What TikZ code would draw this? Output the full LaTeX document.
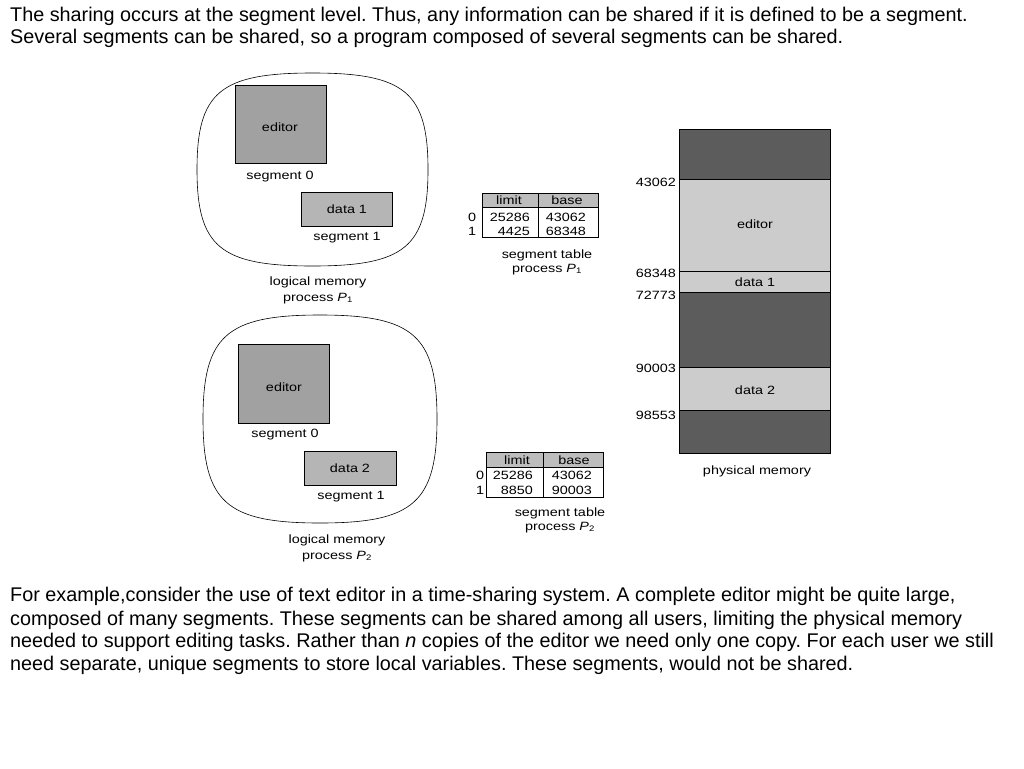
\documentclass[tikz,border=0pt]{standalone}
\usepackage{fontspec}
\setmainfont{Liberation Sans}
\newfontfamily\figfont[FakeStretch=1.2]{Liberation Sans}
\frenchspacing

\definecolor{memdark}{gray}{0.36}
\definecolor{memlight}{gray}{0.80}
\definecolor{segfill}{gray}{0.63}
\definecolor{datfill}{gray}{0.71}
\definecolor{headfill}{gray}{0.74}

\tikzset{
  txt/.style={anchor=base west,inner sep=0pt,font=\fontsize{19.8}{23}\selectfont},
  lbl/.style={anchor=base,inner sep=0pt,font=\figfont\fontsize{12}{13}\selectfont},
  num/.style={lbl,anchor=base east}
}

\begin{document}
\begin{tikzpicture}[x=1pt,y=-1pt]
  \useasboundingbox(0,0)rectangle(1024,768);

  \node[txt] (intro1) at (10,21.7){The sharing occurs at the segment level. Thus, any information can be shared if it is defined to be a segment.};
  \node[txt] (intro2) at (10,43.3){Several segments can be shared, so a program composed of several segments can be shared.};

  \foreach \cx/\cy/\a/\b in {312.5/169.5/115.5/96.5, 320/419/117/104}
  {
    \draw[semithick](\cx,\cy-\b) .. controls (\cx+0.8*\a,\cy-\b) and (\cx+\a,\cy-0.8*\b) .. (\cx+\a,\cy)
      .. controls (\cx+\a,\cy+0.8*\b) and (\cx+0.8*\a,\cy+\b) .. (\cx,\cy+\b)
      .. controls (\cx-0.8*\a,\cy+\b) and (\cx-\a,\cy+0.8*\b) .. (\cx-\a,\cy)
      .. controls (\cx-\a,\cy-0.8*\b) and (\cx-0.8*\a,\cy-\b) .. (\cx,\cy-\b);
  }

  \draw[fill=segfill](235,85)rectangle(326,163);
  \node[lbl] (ed1) at (280,131){editor};
  \node[lbl] (s0a) at (280,179){segment 0};
  \draw[fill=datfill](301,192)rectangle(392,226);
  \node[lbl] (d1) at (347,213){data 1};
  \node[lbl] (s1a) at (347,240){segment 1};
  \node[lbl] (lm1) at (318,285){logical memory};
  \node[lbl] (pr1) at (318,301){process \textit{P}\textsubscript{1}};

  \draw[fill=segfill](238,344)rectangle(329,423);
  \node[lbl] (ed2) at (284,391){editor};
  \node[lbl] (s0b) at (285,437){segment 0};
  \draw[fill=datfill](304,451)rectangle(396,485);
  \node[lbl] (d2) at (350,472){data 2};
  \node[lbl] (s1b) at (351,499){segment 1};
  \node[lbl] (lm2) at (337,543){logical memory};
  \node[lbl] (pr2) at (337,559){process \textit{P}\textsubscript{2}};

  \draw[fill=headfill](482,193)rectangle(598,207);
  \draw(482,193)rectangle(598,237)(538,193)--(538,237);
  \node[lbl] (lim1) at (509,204){limit};
  \node[lbl] (bas1) at (567,204){base};
  \foreach \r/\y/\l/\b in {0/221/25286/43062, 1/235/4425/68348}
  {
    \node[lbl] at (472,\y){\r};
    \node[num] at (530,\y){\l};
    \node[num] at (586,\y){\b};
  }
  \node[lbl] (st1) at (547,258){segment table};
  \node[lbl] (sp1) at (547,272){process \textit{P}\textsubscript{1}};

  \draw[fill=headfill](486,452)rectangle(603,467);
  \draw(486,452)rectangle(603,497)(543,452)--(543,497);
  \node[lbl] (lim2) at (517,464){limit};
  \node[lbl] (bas2) at (574,464){base};
  \foreach \r/\y/\l/\b in {0/479/25286/43062, 1/494/8850/90003}
  {
    \node[lbl] at (480,\y){\r};
    \node[num] at (533,\y){\l};
    \node[num] at (592,\y){\b};
  }
  \node[lbl] (st2) at (560,516){segment table};
  \node[lbl] (sp2) at (560,530){process \textit{P}\textsubscript{2}};

  \fill[memdark](679,129)rectangle(830,179);
  \fill[memlight](679,179)rectangle(830,292);
  \fill[memdark](679,292)rectangle(830,367);
  \fill[memlight](679,367)rectangle(830,410);
  \fill[memdark](679,410)rectangle(830,453);
  \draw(679,129)rectangle(830,453);
  \foreach \y/\v in {179/43062, 271/68348, 292/72773, 367/90003, 410/98553}
  {
    \draw(679,\y)--(830,\y);
  }
  \foreach \y/\v in {186/43062, 277/68348, 299/72773, 372/90003, 419/98553}
  {
    \node[num] at (676,\y){\v};
  }
  \node[lbl] (ped) at (755,228){editor};
  \node[lbl] (pd1) at (755,286){data 1};
  \node[lbl] (pd2) at (755,394){data 2};
  \node[lbl] (pm) at (757,474){physical memory};

  \node[txt] (ex1) at (10,601.7){For example,consider the use of text editor in a time-sharing system. A complete editor might be quite large,};
  \node[txt] (ex2) at (10,625){composed of many segments. These segments can be shared among all users, limiting the physical memory};
  \node[txt] (ex3) at (10,647.7){needed to support editing tasks. Rather than \textit{n} copies of the editor we need only one copy. For each user we still};
  \node[txt] (ex4) at (10,670){need separate, unique segments to store local variables. These segments, would not be shared.};
\end{tikzpicture}
\end{document}
